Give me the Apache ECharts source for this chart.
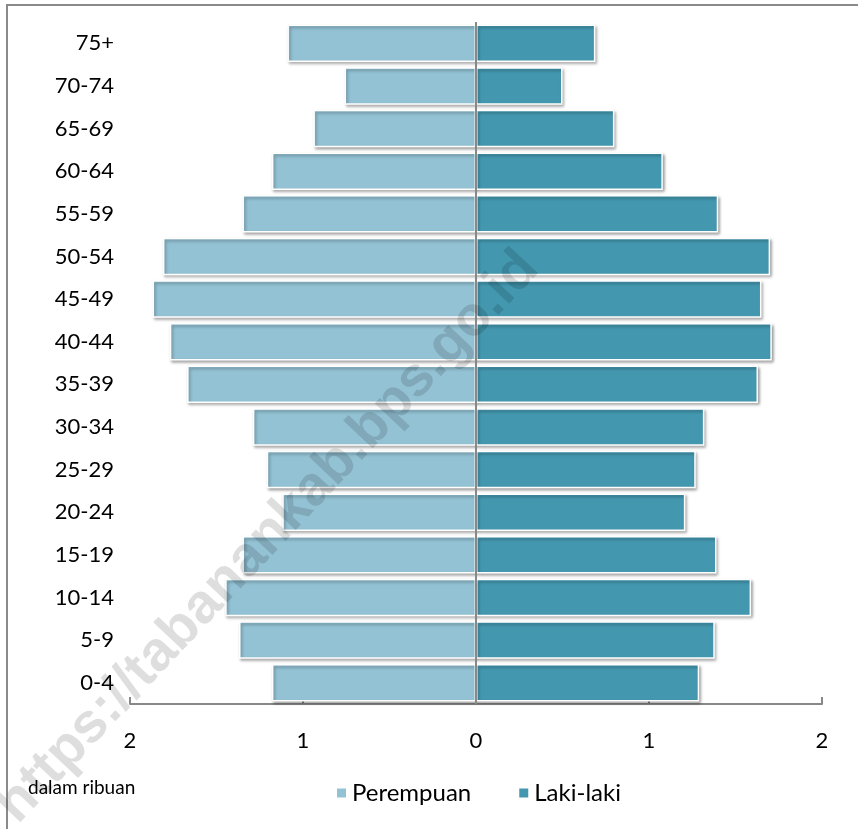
<!DOCTYPE html>
<html>
<head>
<meta charset="utf-8">
<script src="https://cdn.jsdelivr.net/npm/echarts@6/dist/echarts.min.js"></script>
<style>
html,body{margin:0;padding:0;background:#fff;}
#c{width:858px;height:829px;}
</style>
</head>
<body>
<div id="c"></div>
<script>
const categories = ['0-4','5-9','10-14','15-19','20-24','25-29','30-34','35-39','40-44','45-49','50-54','55-59','60-64','65-69','70-74','75+'];
const perempuan = [1.18,1.37,1.45,1.35,1.12,1.21,1.29,1.67,1.77,1.87,1.81,1.35,1.18,0.94,0.76,1.09];
const lakiLaki = [1.29,1.38,1.59,1.39,1.21,1.27,1.32,1.63,1.71,1.65,1.70,1.40,1.08,0.80,0.50,0.69];
const xTicks = [-2,-1,0,1,2];

const FONT = 'Lato, "Open Sans", sans-serif';
const chart = echarts.init(document.getElementById('c'));
const barStyle = (color) => ({
  color: color,
  borderColor: '#ffffff',
  borderWidth: 1.5,
  shadowColor: 'rgba(0,0,0,0.35)',
  shadowBlur: 3,
  shadowOffsetX: 1.5,
  shadowOffsetY: 2
});
chart.setOption({
  animation: false,
  textStyle: {fontFamily: FONT},
  grid: {left: 130, right: 36, top: 22, bottom: 125, containLabel: false},
  legend: {
    left: 330, top: 776,
    icon: 'rect', itemWidth: 11, itemHeight: 11, itemGap: 46,
    textStyle: {fontSize: 24, color: '#000', fontFamily: FONT},
    data: ['Perempuan', 'Laki-laki']
  },
  xAxis: {
    type: 'value', min: xTicks[0], max: xTicks[xTicks.length-1], interval: 1,
    axisLine: {show: true, lineStyle: {color: '#888', width: 2}},
    axisTick: {show: true, inside: true, length: 7, lineStyle: {color: '#888', width: 2}},
    splitLine: {show: false},
    axisLabel: {fontSize: 22, color: '#000', margin: 26, formatter: v => String(Math.abs(v))}
  },
  yAxis: {
    type: 'category', data: categories,
    axisLine: {show: false}, axisTick: {show: false},
    axisLabel: {fontSize: 22, color: '#000', margin: 16}
  },
  graphic: [
    {type: 'rect', shape: {x: 7, y: 5, width: 1000, height: 1000}, style: {fill: 'none', stroke: '#8a8a8a', lineWidth: 2}, z: 0, silent: true},
    {type: 'text', left: 28, top: 778, style: {text: 'dalam ribuan', fontSize: 19, fill: '#000', fontFamily: FONT}},
    {type: 'text', x: 268, y: 537, rotation: 0.815, originX: 0, originY: 0,
     style: {text: 'https://tabanankab.bps.go.id', fontSize: 56, fontWeight: 'bold', fontFamily: '"Liberation Sans", Arial, sans-serif', fill: 'rgba(0,0,0,0.13)', align: 'center', verticalAlign: 'middle'},
     z: 100, silent: true}
  ],
  series: [
    {
      name: 'Perempuan', type: 'bar', barWidth: '88%', barGap: '-100%',
      data: perempuan.map(v => -v),
      itemStyle: barStyle('#93c2d4')
    },
    {
      name: 'Laki-laki', type: 'bar', barWidth: '88%', barGap: '-100%',
      data: lakiLaki,
      itemStyle: barStyle('#4398b0'),
      markLine: {
        silent: true, symbol: 'none', label: {show: false},
        lineStyle: {color: '#888', width: 2, type: 'solid'},
        data: [{xAxis: 0}]
      }
    }
  ]
});
</script>
</body>
</html>
